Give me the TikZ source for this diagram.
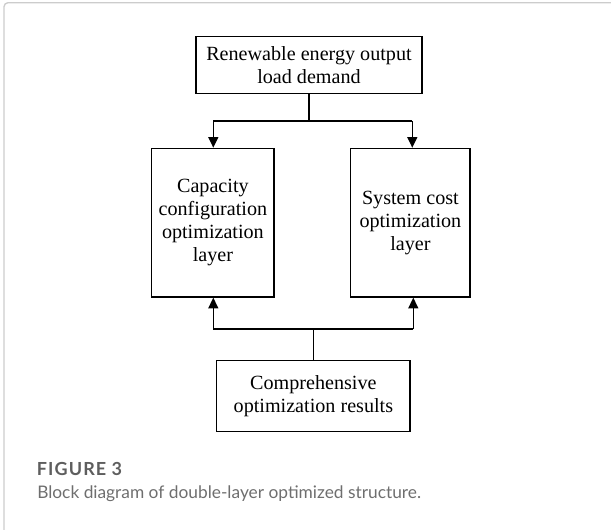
\documentclass[tikz,border=0pt]{standalone}
\usepackage{fontspec}
\setmainfont{Liberation Serif}
\newfontfamily\capfont{Lato}
\usetikzlibrary{arrows.meta}
\definecolor{framegray}{HTML}{CCCCCC}
\definecolor{figgray}{HTML}{5E5E5E}
\definecolor{capgray}{HTML}{6E6E6E}
\begin{document}
\begin{tikzpicture}[x=0.75pt,y=-0.75pt,
  block/.style={draw, line width=1pt, inner sep=0pt, align=center,
    font=\fontsize{15.1}{17.3}\selectfont},
  wire/.style={line width=1pt, line join=miter},
  conn/.style={line width=1pt, -{Triangle[width=7.5pt,length=8pt]}},
  figlabel/.style={anchor=base west, inner sep=0pt, text=figgray,
    font=\capfont\fontsize{13.5}{15}\selectfont\bfseries\addfontfeatures{LetterSpace=6}},
  captext/.style={anchor=base west, inner sep=0pt, text=capgray,
    font=\capfont\fontsize{13}{15}\selectfont}]
\useasboundingbox (0,0) rectangle (611,529);
\begin{scope}
\clip (0,0) rectangle (611,529);
\draw[framegray, line width=1pt, rounded corners=3pt] (4,2.7) rectangle (640,560);
\end{scope}
% blocks
\node[block, minimum width=169.5pt, minimum height=42.5pt] (top) at (309,65)
  {Renewable energy output\\load demand};
\node[block, minimum width=91.7pt, minimum height=111.5pt] (left) at (212.9,222.7)
  {Capacity\\configuration\\optimization\\layer};
\node[block, minimum width=89.5pt, minimum height=111.5pt] (right) at (410.4,222.7)
  {System cost\\optimization\\layer};
\node[block, minimum width=145pt, minimum height=53.25pt] (bottom) at (313.4,396.2)
  {Comprehensive\\optimization results};
% upper connectors
\coordinate (hl) at (213.3,121);
\coordinate (hr) at (412.3,121);
\draw[wire] (top.south) -- (top.south |- hl);
\draw[wire] (hl) -- (hr);
\draw[conn] (hl) -- (hl |- left.north);
\draw[conn] (hr) -- (hr |- right.north);
% lower connectors
\coordinate (bl) at (213.3,329);
\coordinate (br) at (413.3,329);
\draw[wire] (bottom.north) -- (bottom.north |- bl);
\draw[wire] (bl) -- (br);
\draw[conn] (bl) -- (bl |- left.south);
\draw[conn] (br) -- (br |- right.south);
% caption
\node[figlabel] (fig) at (36.7,475.7) {FIGURE 3};
\node[captext] (cap) at (37,498.3) {Block diagram of double-layer optimized structure.};
\end{tikzpicture}
\end{document}
